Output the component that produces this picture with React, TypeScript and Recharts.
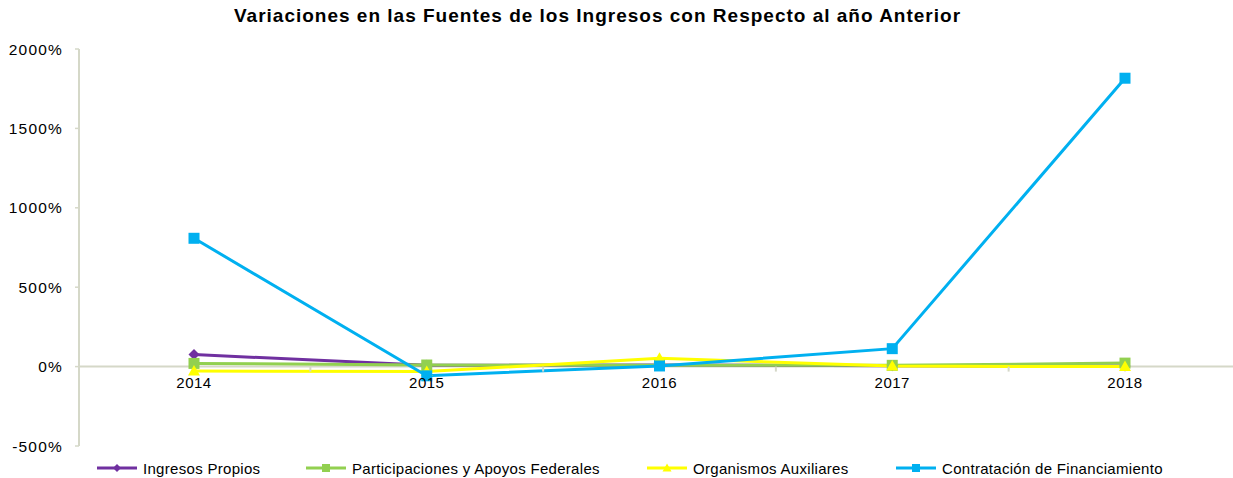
import React from 'react';
import { LineChart, Line, XAxis, YAxis, ReferenceLine, Legend } from 'recharts';

const years = ['2014', '2015', '2016', '2017', '2018'];
const ingresosPropios = [76, 8, 10, 5, 3];
const participaciones = [20, 10, 8, 8, 22];
const organismos = [-28, -31, 52, 3, 0];
const contratacion = [808, -58, 4, 113, 1816];
const yTicks = [-500, 0, 500, 1000, 1500, 2000];

const data = years.map((y, i) => ({
  year: y,
  ip: ingresosPropios[i],
  pa: participaciones[i],
  oa: organismos[i],
  cf: contratacion[i],
}));

const W = 1233;
const H = 478;
const TOP = 49;
const PLOT_H = 397;
const Y_MIN = -500;
const Y_MAX = 2000;
const ZERO_Y = TOP + ((Y_MAX - 0) / (Y_MAX - Y_MIN)) * PLOT_H;
const PAD_L = 115;
const PAD_R = 108;
const LEFT = 79;
const STEP = (W - LEFT - PAD_L - PAD_R) / (years.length - 1);

const PURPLE = '#7030A0';
const GREEN = '#92D050';
const YELLOW = '#FFFF00';
const BLUE = '#00B0F0';
const AXIS = '#D5D8C8';
const FONT = 'Arial, "Liberation Sans", sans-serif';

const diamond = (props: any) => {
  const { cx, cy, key } = props;
  if (cx == null || cy == null) return <g key={key} />;
  const s = 5.5;
  return <path key={key} d={`M${cx},${cy - s}L${cx + s},${cy}L${cx},${cy + s}L${cx - s},${cy}Z`} fill={PURPLE} />;
};
const square = (color: string, s: number) => (props: any) => {
  const { cx, cy, key } = props;
  if (cx == null || cy == null) return <g key={key} />;
  return <rect key={key} x={cx - s / 2} y={cy - s / 2} width={s} height={s} fill={color} />;
};
const triangle = (props: any) => {
  const { cx, cy, key } = props;
  if (cx == null || cy == null) return <g key={key} />;
  const s = 6;
  return <path key={key} d={`M${cx},${cy - s}L${cx + s},${cy + s * 0.75}L${cx - s},${cy + s * 0.75}Z`} fill={YELLOW} />;
};

const XTick = (props: any) => {
  const { x, payload, index } = props;
  return (
    <g>
      {index < years.length - 1 && (
        <line x1={x + STEP / 2} x2={x + STEP / 2} y1={ZERO_Y} y2={ZERO_Y + 5} stroke={AXIS} strokeWidth={2} />
      )}
      <text x={x} y={ZERO_Y + 21} textAnchor="middle" fontSize={15} letterSpacing={0.5} fill="#000" fontFamily={FONT}>
        {payload.value}
      </text>
    </g>
  );
};

const legendItems = [
  { label: 'Ingresos Propios', color: PURPLE, left: 97, shape: 'diamond' },
  { label: 'Participaciones y Apoyos Federales', color: GREEN, left: 306, shape: 'square' },
  { label: 'Organismos Auxiliares', color: YELLOW, left: 647, shape: 'triangle' },
  { label: 'Contratación de Financiamiento', color: BLUE, left: 896, shape: 'square' },
];

const LegendContent = () => (
  <div style={{ position: 'relative', width: W, height: 20, fontFamily: FONT }}>
    {legendItems.map((it) => (
      <div key={it.label} style={{ position: 'absolute', left: it.left, top: 0, height: 20, display: 'flex', alignItems: 'center' }}>
        <svg width={42} height={20}>
          <line x1={0} x2={40} y1={10} y2={10} stroke={it.color} strokeWidth={3} />
          {it.shape === 'diamond' && <path d="M20,6L24,10L20,14L16,10Z" fill={it.color} />}
          {it.shape === 'square' && <rect x={16} y={6} width={8} height={8} fill={it.color} />}
          {it.shape === 'triangle' && <path d="M20,5.5L24.5,13.5L15.5,13.5Z" fill={it.color} />}
        </svg>
        <span style={{ fontSize: 15, letterSpacing: 0.3, color: '#000', whiteSpace: 'nowrap', marginLeft: 4 }}>{it.label}</span>
      </div>
    ))}
  </div>
);

export default function App() {
  return (
    <div style={{ position: 'absolute', left: 0, top: 0, width: W, height: H, background: '#fff' }}>
      <div
        style={{
          position: 'absolute',
          top: 5,
          left: 0,
          width: W - 38,
          textAlign: 'center',
          fontFamily: FONT,
          fontWeight: 'bold',
          fontSize: 19,
          letterSpacing: 1,
          color: '#000',
        }}
      >
        Variaciones en las Fuentes de los Ingresos con Respecto al año Anterior
      </div>
      <LineChart width={W} height={H} data={data} margin={{ top: TOP, right: 0, left: 0, bottom: 0 }}>
        <XAxis
          dataKey="year"
          height={12}
          padding={{ left: PAD_L, right: PAD_R }}
          axisLine={false}
          tickLine={false}
          tick={<XTick />}
          interval={0}
        />
        <YAxis
          width={LEFT}
          domain={[Y_MIN, Y_MAX]}
          ticks={yTicks}
          interval={0}
          tickFormatter={(v: number) => `${v}%`}
          axisLine={{ stroke: AXIS, strokeWidth: 2 }}
          tickLine={{ stroke: AXIS, strokeWidth: 1.5 }}
          tickSize={4}
          tickMargin={12}
          tick={{ fontSize: 15.5, fill: '#000', fontFamily: FONT, letterSpacing: 1.2 }}
        />
        <ReferenceLine y={0} stroke={AXIS} strokeWidth={2} />
        <Line dataKey="ip" stroke={PURPLE} strokeWidth={3} dot={diamond} isAnimationActive={false} />
        <Line dataKey="pa" stroke={GREEN} strokeWidth={3} dot={square(GREEN, 11)} isAnimationActive={false} />
        <Line dataKey="oa" stroke={YELLOW} strokeWidth={3} dot={triangle} isAnimationActive={false} />
        <Line dataKey="cf" stroke={BLUE} strokeWidth={3} dot={square(BLUE, 11)} isAnimationActive={false} />
        <Legend verticalAlign="bottom" wrapperStyle={{ left: 0, width: W }} content={<LegendContent />} />
      </LineChart>
    </div>
  );
}
